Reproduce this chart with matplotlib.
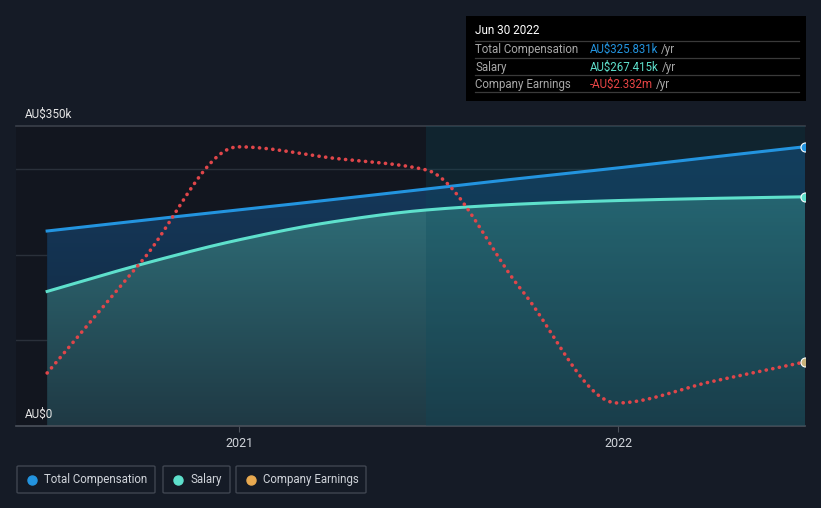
import numpy as np
import matplotlib
matplotlib.use("Agg")
import matplotlib.pyplot as plt
import matplotlib.dates as mdates
from matplotlib.patches import Polygon, Rectangle, FancyBboxPatch
from matplotlib.lines import Line2D
import datetime as dt

plt.rcParams['font.family'] = ['Roboto', 'DejaVu Sans']

# ---------------- data ----------------
dates = ["2020-06-30", "2020-09-30", "2020-12-31", "2021-03-31", "2021-06-30",
         "2021-09-30", "2021-12-31", "2022-03-31", "2022-06-30"]
total_comp = [227500, 240000, 252000, 264000, 276500, 289000, 301000, 313500, 325831]
salary = [157000, 189000, 217000, 238000, 252000, 259000, 263000, 265500, 267415]
earnings_m = [-2.62, 0.32, 3.27, 2.98, 2.67, -0.46, -3.40, -2.85, -2.332]
y_tick_labels = ["AU$0", "AU$350k"]
x_tick_labels = ["2021", "2022"]
tooltip_date = "Jun 30 2022"
tooltip_rows = [("Total Compensation", "AU$325.831k", "#2394df"),
                ("Salary", "AU$267.415k", "#5ee0cc"),
                ("Company Earnings", "-AU$2.332m", "#e84545")]
legend_items = [("Total Compensation", "#2394df"), ("Salary", "#5ee0cc"),
                ("Company Earnings", "#e8a950")]

W, H = 821, 508
fig = plt.figure(figsize=(W / 100, H / 100), dpi=100)
fig.patch.set_facecolor("#151b26")

L, R, T, B = 16, 805, 126, 426
ax = fig.add_axes([L / W, 1 - B / H, (R - L) / W, (B - T) / H])
ax.set_facecolor("#12161f")

xd = np.array([mdates.date2num(dt.datetime.strptime(d, "%Y-%m-%d")) for d in dates])
tc = np.array(total_comp, float)
sal = np.array(salary, float)
ern = np.array(earnings_m, float)


def pchip(x, y, xs):
    h = np.diff(x)
    d = np.diff(y) / h
    n = len(x)
    m = np.zeros(n)
    for k in range(1, n - 1):
        if d[k - 1] * d[k] > 0:
            w1 = 2 * h[k] + h[k - 1]
            w2 = h[k] + 2 * h[k - 1]
            m[k] = (w1 + w2) / (w1 / d[k - 1] + w2 / d[k])
    m[0] = d[0]
    m[-1] = d[-1]
    out = np.empty_like(xs)
    for i, xv in enumerate(xs):
        k = min(np.searchsorted(x, xv, side="right") - 1, n - 2)
        k = max(k, 0)
        t = (xv - x[k]) / h[k]
        h00 = 2 * t**3 - 3 * t**2 + 1
        h10 = t**3 - 2 * t**2 + t
        h01 = -2 * t**3 + 3 * t**2
        h11 = t**3 - t**2
        out[i] = h00 * y[k] + h10 * h[k] * m[k] + h01 * y[k + 1] + h11 * h[k] * m[k + 1]
    return out


xs = np.linspace(xd[0], xd[-1], 600)
tc_s = pchip(xd, tc, xs)
sal_s = pchip(xd, sal, xs)

x_left = mdates.date2num(dt.datetime(2020, 5, 31))
x_right = xd[-1]
ax.set_xlim(x_left, x_right)
ax.set_ylim(0, 350000)

# gridlines
for gv in [100000, 200000, 300000]:
    ax.axhline(gv, color="#2a303a", lw=1, zorder=1)
ax.axhline(350000, color="#3a404a", lw=1.2, zorder=1, clip_on=False)


def grad_fill(ylow, yhigh, ctop, cbot, z):
    poly = np.vstack([np.column_stack([xs, yhigh]), np.column_stack([xs[::-1], ylow[::-1]])])
    p = Polygon(poly, closed=True, facecolor="none", edgecolor="none")
    ax.add_patch(p)
    c1 = np.array(matplotlib.colors.to_rgb(ctop))
    c2 = np.array(matplotlib.colors.to_rgb(cbot))
    t = np.linspace(0, 1, 256)[:, None]
    img = (c1 * (1 - t) + c2 * t)[:, None, :]
    top = yhigh.max()
    bot = ylow.min()
    im = ax.imshow(img, extent=[xs[0], xs[-1], bot, top], aspect="auto",
                   origin="upper", zorder=z, interpolation="bilinear")
    im.set_clip_path(p)


grad_fill(sal_s, tc_s, "#163a5e", "#13304c", 2)
grad_fill(np.zeros_like(xs), sal_s, "#2f6f79", "#1f3944", 2)

# highlight last-year region
ax.axvspan(xd[4], x_right, color="#0b4a5c", alpha=0.28, zorder=3, lw=0)

ax.plot(xs, tc_s, color="#2394df", lw=2.2, zorder=5)
ax.plot(xs, sal_s, color="#5ee0cc", lw=2.2, zorder=5)
ax.plot([xd[-1]], [tc[-1]], "o", ms=6.5, color="#2394df", mec="white", mew=0.8, zorder=6)
ax.plot([xd[-1]], [sal[-1]], "o", ms=6.5, color="#5ee0cc", mec="white", mew=0.8, zorder=6)

ax2 = ax.twinx()
ax2.set_ylim(-4.0, -4.0 + 300 / 38.4)
ax2.set_xlim(x_left, x_right)
ern_s = pchip(xd, ern, xs)
ax2.plot(xs, ern_s, color="#e0464a", lw=2.6, linestyle=(0, (0.05, 1.8)),
         dash_capstyle="round", zorder=5)
ax2.plot([xd[-1]], [ern[-1]], "o", ms=6.5, color="#c8b37a", mec="white", mew=0.8, zorder=6)
ax2.axis("off")

for s in ["top", "right", "left"]:
    ax.spines[s].set_visible(False)
ax.spines["bottom"].set_color("#4a505a")
ax.spines["bottom"].set_linewidth(1.2)
ax.set_yticks([])
tick_pos = [mdates.date2num(dt.datetime(2021, 1, 1)), mdates.date2num(dt.datetime(2022, 1, 1))]
ax.set_xticks(tick_pos)
ax.set_xticklabels(x_tick_labels, color="#d0d4da", fontsize=9)
ax.tick_params(axis="x", length=4, color="#4a505a", pad=4)

# y labels
fig.text(25 / W, 1 - 114 / H, y_tick_labels[1], color="#e6e6e6", fontsize=8.5, va="center", ha="left")
fig.text(25 / W, 1 - 414 / H, y_tick_labels[0], color="#e6e6e6", fontsize=8.5, va="center", ha="left", zorder=10)


def px(x, y):
    return x / W, 1 - y / H


# tooltip
fig.patches.append(Rectangle(px(466, 101), 340 / W, 85 / H, transform=fig.transFigure,
                             facecolor="#000000", edgecolor="none", zorder=20))
fig.text(*px(475, 31), tooltip_date, color="#ffffff", fontsize=8.5, va="center", zorder=21)
for yy in [41, 58, 75, 92]:
    fig.lines.append(Line2D([475 / W, 799 / W], [1 - yy / H] * 2, transform=fig.transFigure,
                            color="#3a3a3a", lw=0.9, zorder=21))
fig.canvas.draw()
renderer = fig.canvas.get_renderer()
for i, (lab, val, col) in enumerate(tooltip_rows):
    yy = 49.5 + 17.5 * i
    fig.text(*px(475, yy), lab, color="#a8a8a8", fontsize=8.3, va="center", zorder=21)
    t = fig.text(*px(590, yy), val, color=col, fontsize=8.3, va="center", zorder=21)
    bb = t.get_window_extent(renderer=renderer)
    fig.text(bb.x1 / W + 3 / W, 1 - yy / H, "/yr", color="#a8a8a8", fontsize=8.3, va="center", zorder=21)

# legend
boxes = [(17, 155), (163, 230), (236, 366)]
for (x0, x1), (lab, col) in zip(boxes, legend_items):
    fig.patches.append(FancyBboxPatch(px(x0, 493), (x1 - x0) / W, 27 / H,
                                      boxstyle="round,pad=0,rounding_size=0.002",
                                      transform=fig.transFigure, facecolor="none",
                                      edgecolor="#3f4550", lw=1, zorder=20))
    fig.lines.append(Line2D([(x0 + 15) / W], [1 - 479.5 / H], marker="o", ms=6.5,
                            color=col, transform=fig.transFigure, zorder=21))
    fig.text((x0 + 27) / W, 1 - 479.5 / H, lab, color="#d0d4da", fontsize=8.3, va="center", zorder=21)

fig.savefig("out.png", dpi=100, facecolor=fig.get_facecolor())
